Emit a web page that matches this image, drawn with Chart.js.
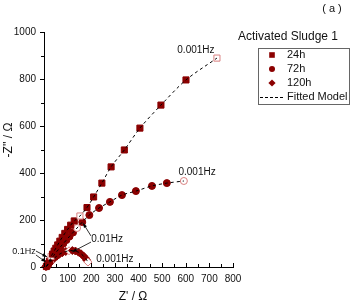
<!DOCTYPE html>
<html>
<head>
<meta charset="utf-8">
<script src="https://cdn.jsdelivr.net/npm/chart.js@4/dist/chart.umd.min.js"></script>
<style>
html,body{margin:0;padding:0;background:#fff;}
#wrap{position:relative;width:350px;height:303px;}
</style>
</head>
<body>
<div id="wrap"><canvas id="c" width="350" height="303"></canvas></div>
<script>
// ---- data (Z' , -Z'') ----
const seriesNames = ["24h", "72h", "120h"];
const z24x = [10,14,18,23,30,36,43,50,58,67,77,88,100,113,128,152,182,210,245,284,340,406,495,601,732];
const z24y = [2,8,15,25,45,55,68,80,94,110,126,143,160,178,196,217,253,298,357,426,498,591,689,796,889];
const open24 = [4,15,24];
const z72x = [10,15,20,24,28,35,42,50,60,70,82,95,108,123,140,162,192,233,279,330,389,457,520,592];
const z72y = [2,8,15,22,30,40,50,61,73,86,100,115,130,147,166,191,221,251,277,306,323,345,357,366];
const open72 = [4,14,23];
const z120x = [8,12,17,22,28,35,44,54,65,78,92,106,120,133,146,157,167,175,181,186];
const z120y = [2,6,10,15,22,30,38,46,54,61,66,69,70,68,63,56,47,38,29,21];
const open120 = [3,11,19];
const xTickValues = [0,100,200,300,400,500,600,700,800];
const yTickValues = [0,200,400,600,800,1000];
const freqLabels = ["0.001Hz","0.001Hz","0.001Hz","0.01Hz","0.1Hz"];
// label anchors in data units (x, y)
const freqLabelX = [643, 648, 300, 267, -85];
const freqLabelY = [923, 404, 34, 119, 64];
// arrows in data units: [x0,y0,x1,y1]
const arrows = [[199,132,165,187],[199,106,119,64],[-34,68,13,43],[-34,51,8,21]];

const RED = '#8b0000';
const OPEN = '#d98080';
const FONT = '"Liberation Sans", Arial, sans-serif';

function pts(xs, ys){ return xs.map((x,i)=>({x:x, y:ys[i]})); }
function fills(n, open){ return Array.from({length:n},(_,i)=> open.includes(i) ? '#ffffff' : RED); }
function borders(n, open){ return Array.from({length:n},(_,i)=> open.includes(i) ? OPEN : RED); }

const markerSets = [
  {name: seriesNames[0], xs: z24x, ys: z24y, open: open24, style: 'rect', r: 4.3},
  {name: seriesNames[1], xs: z72x, ys: z72y, open: open72, style: 'circle', r: 3.5},
  {name: seriesNames[2], xs: z120x, ys: z120y, open: open120, style: 'rectRot', r: 4}
];

const datasets = [];
markerSets.forEach(s => {
  datasets.push({
    label: 'fit ' + s.name,
    data: pts(s.xs, s.ys),
    showLine: true,
    borderColor: '#000',
    borderWidth: 1,
    borderDash: [3,3],
    pointRadius: 0,
    tension: 0.3,
    order: 0,
    clip: false
  });
  datasets.push({
    label: s.name,
    data: pts(s.xs, s.ys),
    showLine: false,
    pointStyle: s.style,
    pointRadius: s.r,
    pointBackgroundColor: fills(s.xs.length, s.open),
    pointBorderColor: borders(s.xs.length, s.open),
    pointBorderWidth: 1,
    order: 1,
    clip: false
  });
});

const decor = {
  id: 'decor',
  afterDraw(chart){
    const ctx = chart.ctx;
    const xs = chart.scales.x, ys = chart.scales.y;
    const a = chart.chartArea;
    ctx.save();
    ctx.strokeStyle = '#000';
    ctx.lineWidth = 1;
    // y ticks (outward), major + minor
    for (let v = 0; v <= 1000; v += 100) {
      const py = Math.round(ys.getPixelForValue(v)) + 0.5;
      const len = (v % 200 === 0) ? 4 : 3;
      ctx.beginPath(); ctx.moveTo(a.left, py); ctx.lineTo(a.left - len, py); ctx.stroke();
    }
    // x ticks (inward), major + minor
    for (let v = 0; v <= 800; v += 50) {
      const px = Math.round(xs.getPixelForValue(v)) + 0.5;
      const len = (v % 100 === 0) ? 4 : 3;
      ctx.beginPath(); ctx.moveTo(px, a.bottom); ctx.lineTo(px, a.bottom - len); ctx.stroke();
    }
    // frequency labels
    ctx.fillStyle = '#111';
    ctx.textAlign = 'center';
    ctx.textBaseline = 'middle';
    freqLabels.forEach((t,i)=>{
      ctx.font = (t === '0.1Hz' ? '9px ' : '10px ') + FONT;
      ctx.fillText(t, xs.getPixelForValue(freqLabelX[i]), ys.getPixelForValue(freqLabelY[i]));
    });
    // arrows
    arrows.forEach(ar=>{
      const x0 = xs.getPixelForValue(ar[0]), y0 = ys.getPixelForValue(ar[1]);
      const x1 = xs.getPixelForValue(ar[2]), y1 = ys.getPixelForValue(ar[3]);
      ctx.strokeStyle = '#333';
      ctx.beginPath(); ctx.moveTo(x0,y0); ctx.lineTo(x1,y1); ctx.stroke();
      const ang = Math.atan2(y1-y0, x1-x0);
      ctx.fillStyle = '#000';
      ctx.beginPath();
      ctx.moveTo(x1,y1);
      ctx.lineTo(x1 - 5*Math.cos(ang-0.35), y1 - 5*Math.sin(ang-0.35));
      ctx.lineTo(x1 - 5*Math.cos(ang+0.35), y1 - 5*Math.sin(ang+0.35));
      ctx.closePath(); ctx.fill();
    });
    // axis titles
    ctx.fillStyle = '#111';
    ctx.font = '12px ' + FONT;
    ctx.textAlign = 'center';
    ctx.textBaseline = 'middle';
    ctx.fillText("Z' / \u03A9", 133, 297);
    ctx.save();
    ctx.translate(9, 140);
    ctx.rotate(-Math.PI/2);
    ctx.fillText("-Z'' / \u03A9", 0, 0);
    ctx.restore();
    // panel tag and legend title
    ctx.font = '11px ' + FONT;
    ctx.fillText('( a )', 332, 9);
    ctx.font = '12px ' + FONT;
    ctx.fillText('Activated Sludge 1', 288, 37);
    // legend box
    ctx.strokeStyle = '#666';
    ctx.strokeRect(258.5, 48.5, 91, 56);
    const ly = [55, 69, 83];
    ctx.font = '11px ' + FONT;
    ctx.textAlign = 'left';
    markerSets.forEach((s,i)=>{
      ctx.fillStyle = RED;
      const y = ly[i], x = 272;
      ctx.beginPath();
      if (s.style === 'rect') ctx.rect(x-2.8, y-2.8, 5.6, 5.6);
      else if (s.style === 'circle') ctx.arc(x, y, 3, 0, Math.PI*2);
      else { ctx.moveTo(x, y-3.6); ctx.lineTo(x+3.6, y); ctx.lineTo(x, y+3.6); ctx.lineTo(x-3.6, y); ctx.closePath(); }
      ctx.fill();
      ctx.fillStyle = '#111';
      ctx.fillText(s.name, 287, y);
    });
    ctx.strokeStyle = '#000';
    ctx.setLineDash([3,2]);
    ctx.beginPath(); ctx.moveTo(260, 97.5); ctx.lineTo(284, 97.5); ctx.stroke();
    ctx.setLineDash([]);
    ctx.fillStyle = '#111';
    ctx.fillText('Fitted Model', 287, 97);
    ctx.restore();
  }
};

new Chart(document.getElementById('c'), {
  type: 'scatter',
  data: { datasets: datasets },
  options: {
    responsive: false,
    animation: false,
    devicePixelRatio: 1,
    layout: { padding: { left: 0, right: 117, top: 32, bottom: 0 } },
    plugins: { legend: { display: false }, tooltip: { enabled: false }, title: { display: false } },
    scales: {
      x: {
        type: 'linear', min: 0, max: 800,
        afterFit(s){ s.height = 36; },
        afterBuildTicks(s){ s.ticks = xTickValues.map(v=>({value:v})); },
        grid: { display: false, drawTicks: false },
        border: { display: true, color: '#000', width: 1 },
        ticks: { color: '#111', font: { family: FONT, size: 10 }, padding: 6, maxRotation: 0,
                 callback: v => String(v) }
      },
      y: {
        type: 'linear', min: 0, max: 1000,
        afterFit(s){ s.width = 44; },
        afterBuildTicks(s){ s.ticks = yTickValues.map(v=>({value:v})); },
        grid: { display: false, drawTicks: false },
        border: { display: true, color: '#000', width: 1 },
        ticks: { color: '#111', font: { family: FONT, size: 10 }, padding: 8,
                 callback: v => String(v) }
      }
    }
  },
  plugins: [decor]
});
</script>
</body>
</html>
